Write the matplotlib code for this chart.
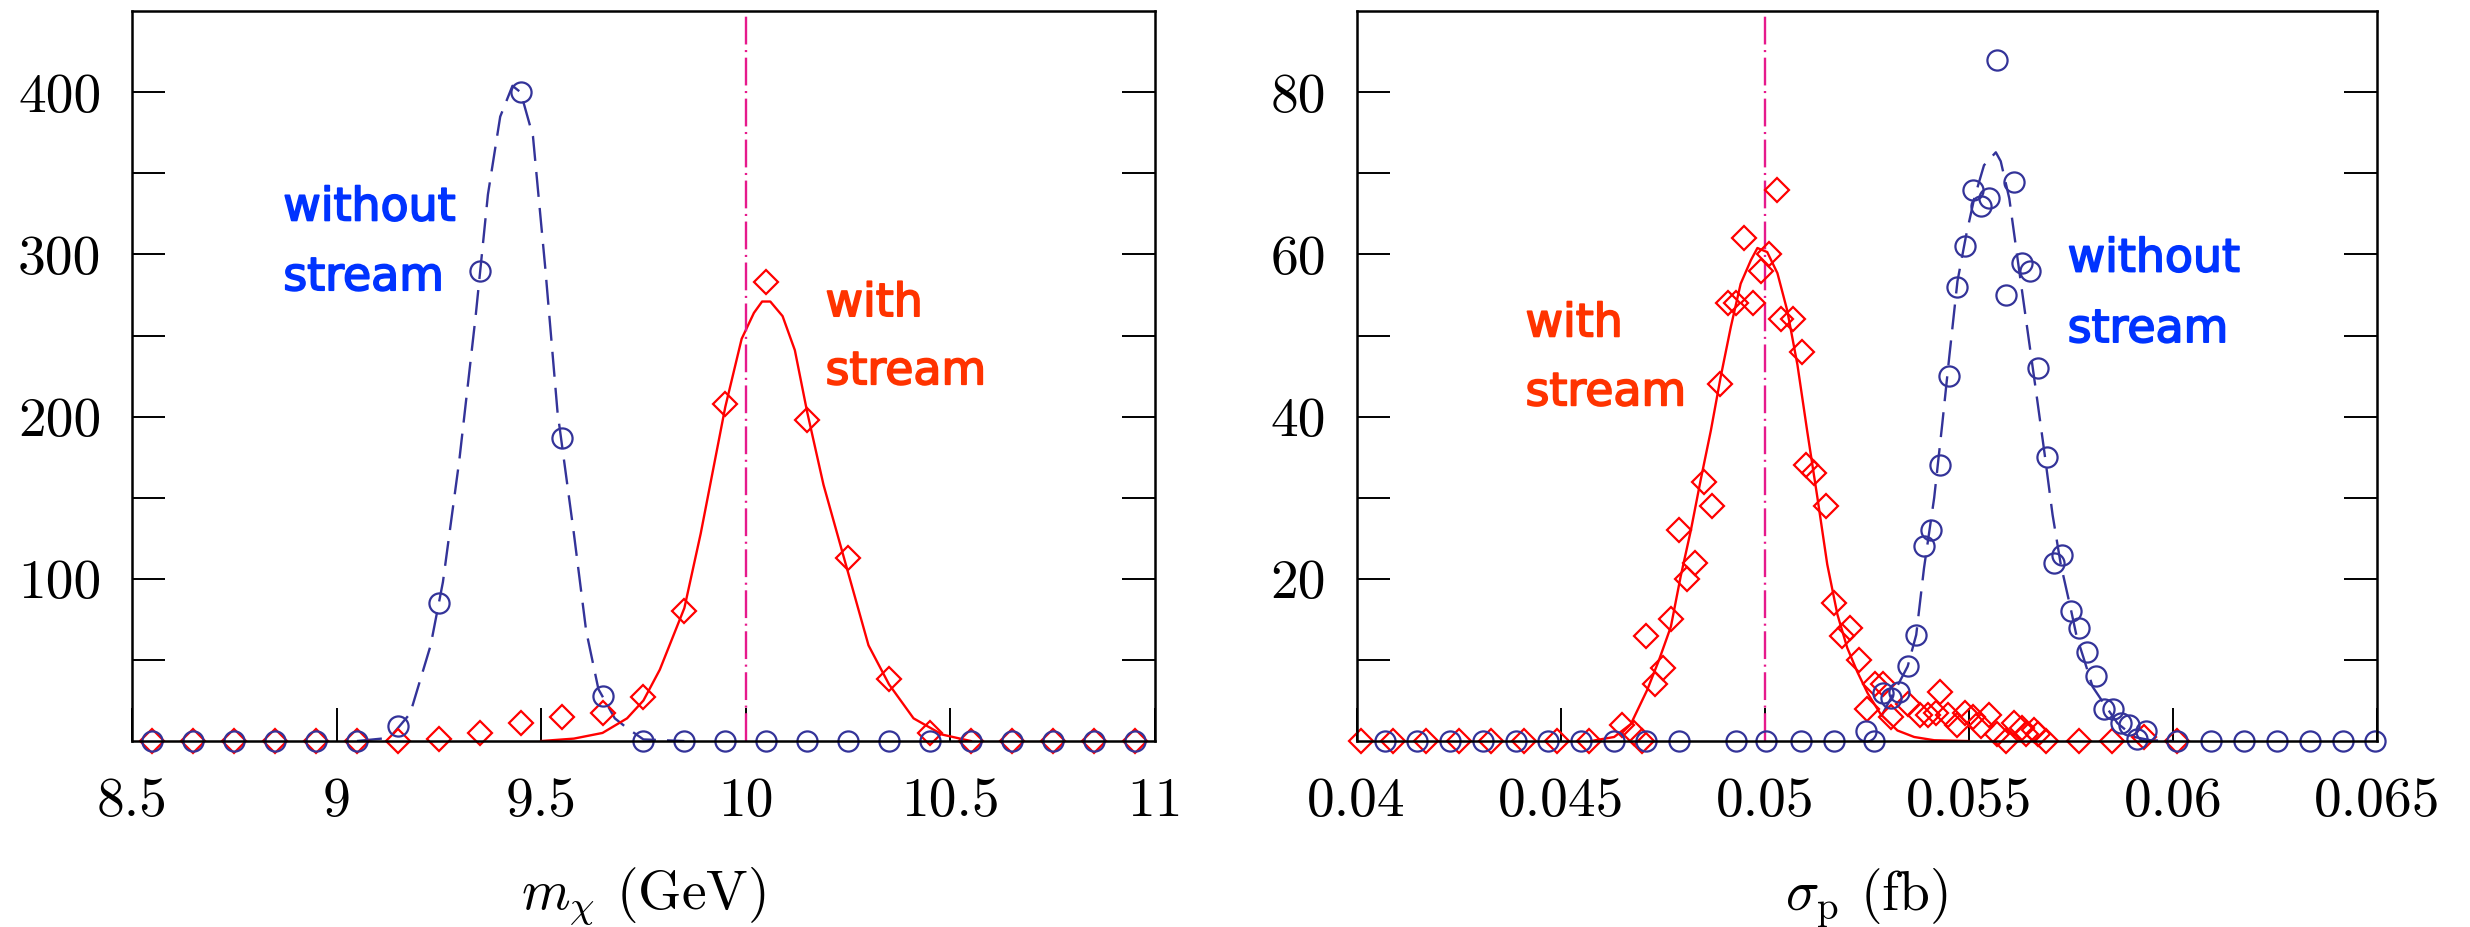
import matplotlib
matplotlib.use('Agg')
import matplotlib.pyplot as plt
import matplotlib.patheffects as pe
from matplotlib.ticker import FixedLocator

plt.rcParams['font.family'] = 'cmr10'
plt.rcParams['mathtext.fontset'] = 'cm'
plt.rcParams['axes.unicode_minus'] = False
plt.rcParams['lines.scale_dashes'] = False

NAVY = '#333399'
RED = '#ff0000'
VLINE = '#e6198c'
TXT_BLUE = '#0033ff'
TXT_RED = '#ff3300'

# ---------------- left panel: m_chi ----------------
mchi_bins = [8.55, 8.65, 8.75, 8.85, 8.95, 9.05, 9.15, 9.25, 9.35, 9.45, 9.55, 9.65, 9.75,
             9.85, 9.95, 10.05, 10.15, 10.25, 10.35, 10.45, 10.55, 10.65, 10.75, 10.85, 10.95]
mchi_without = [0, 0, 0, 0, 0, 0, 9, 85, 290, 400, 187, 28, 0,
                0, 0, 0, 0, 0, 0, 0, 0, 0, 0, 0, 0]
mchi_with = [0, 0, 0, 0, 0, 0, 0, 1, 5, 11, 15, 17, 27,
             80, 208, 283, 198, 113, 38, 5, 0, 0, 0, 0, 0]

# fitted curves
mchi_fit_without_x = [9.05, 9.13, 9.18, 9.23, 9.26, 9.30, 9.34, 9.37, 9.40, 9.43, 9.45,
                      9.48, 9.51, 9.54, 9.58, 9.61, 9.64, 9.68, 9.71, 9.75, 9.85]
mchi_fit_without_y = [0, 2, 17, 59, 98, 173, 262, 337, 385, 404, 400,
                      373, 292, 203, 128, 68, 32, 14, 8, 1, 0]
mchi_fit_with_x = [9.50, 9.58, 9.65, 9.71, 9.75, 9.79, 9.85, 9.89, 9.95, 9.99, 10.02, 10.04,
                   10.06, 10.09, 10.12, 10.15, 10.19, 10.22, 10.26, 10.30, 10.35, 10.41, 10.48, 10.55]
mchi_fit_with_y = [0, 1.5, 5, 14, 25, 44, 82, 128, 206, 248, 264, 271,
                   271, 262, 241, 203, 158, 131, 95, 59, 35, 14, 4, 0]

# ---------------- right panel: sigma_p ----------------
sig_with_x = [0.0401, 0.0409, 0.0417, 0.0425, 0.0433, 0.0441, 0.0449, 0.0457, 0.0465, 0.0468,
              0.0470, 0.0471, 0.0473, 0.0475, 0.0477, 0.0479, 0.0481, 0.0483, 0.0485, 0.0487,
              0.0489, 0.0491, 0.0493, 0.0495, 0.0497, 0.0499, 0.0501, 0.0503, 0.0504, 0.0507,
              0.0509, 0.0510, 0.0512, 0.0515, 0.0517, 0.0519, 0.0521, 0.0523, 0.0525, 0.0527,
              0.0529, 0.0531, 0.0535, 0.0538, 0.0540, 0.0542, 0.0543, 0.0545, 0.0547, 0.0549,
              0.0551, 0.0553, 0.0555, 0.0557, 0.0559, 0.0561, 0.0563, 0.0564, 0.0566, 0.0567,
              0.0569, 0.0577, 0.0585, 0.0593, 0.0601]
sig_with_y = [0, 0, 0, 0, 0, 0, 0, 0, 2, 1,
              0, 13, 7, 9, 15, 26, 20, 22, 32, 29,
              44, 54, 54, 62, 54, 58, 60, 68, 52, 52,
              48, 34, 33, 29, 17, 13, 14, 10, 4, 7,
              7, 3, 4.6, 3.2, 3.2, 3.4, 6, 3.2, 2, 3.4,
              3, 1.8, 3.2, 0.9, 0, 2.2, 1.6, 0.9, 1.4, 0.9,
              0, 0, 0, 0.5, 0]

sig_without_x = [0.04069, 0.04149, 0.04229, 0.0431, 0.0439, 0.0447, 0.04551, 0.04631, 0.04708,
                 0.0479, 0.04929, 0.05002, 0.05088, 0.0517, 0.05248, 0.05268, 0.05289, 0.05309,
                 0.0533, 0.0535, 0.05371, 0.0539, 0.05407, 0.0543, 0.05452, 0.05472, 0.05491,
                 0.05511, 0.05529, 0.0555, 0.05569, 0.05591, 0.05611, 0.05629, 0.0565, 0.0567,
                 0.05691, 0.05709, 0.05729, 0.0575, 0.0577, 0.0579, 0.05811, 0.05831, 0.05852,
                 0.05872, 0.05892, 0.05913, 0.05933, 0.06011, 0.06094, 0.06173, 0.06255,
                 0.06336, 0.06416, 0.06495]
sig_without_y = [0, 0, 0, 0, 0, 0, 0, 0, 0,
                 0, 0, 0, 0, 0, 1.2, 0, 5.9, 5.3,
                 6.1, 9.2, 13.1, 24, 26, 34, 45, 56, 61,
                 68, 66, 67, 84, 55, 69, 59, 58, 46,
                 35, 22, 23, 16, 14, 11, 8, 4, 3.9,
                 2.2, 2, 0.3, 1.2, 0, 0, 0, 0,
                 0, 0, 0]

sig_fit_without_x = [0.05285, 0.0535, 0.05371, 0.0539, 0.05415, 0.05435, 0.05452, 0.05472,
                     0.05493, 0.05513, 0.05537, 0.05566, 0.05578, 0.05599, 0.0562, 0.05644,
                     0.05664, 0.05685, 0.05705, 0.05725, 0.0575, 0.05764, 0.0578, 0.05803,
                     0.05831, 0.05864, 0.05905, 0.05945, 0.0600]
sig_fit_without_y = [3.0, 9.2, 13.1, 21.3, 30, 39.2, 47.4, 56.7,
                     62.3, 66.9, 71, 72.6, 71.5, 66.9, 59.2, 50.5,
                     43.3, 35.6, 27.9, 21.8, 16.2, 12.9, 10.4, 6.7,
                     4.6, 2.2, 0.5, 0.1, 0]
sig_fit_with_x = [0.04574, 0.04631, 0.04672, 0.04712, 0.04741, 0.0477, 0.04794, 0.04819,
                  0.04843, 0.04868, 0.04892, 0.04917, 0.04941, 0.04966, 0.04982, 0.05006,
                  0.05031, 0.05055, 0.0508, 0.05104, 0.05129, 0.05153, 0.05178, 0.05202,
                  0.05227, 0.05252, 0.05284, 0.05325, 0.05366, 0.05415, 0.0550]
sig_fit_with_y = [0, 0.5, 2.1, 6.3, 10, 14.1, 20.3, 26,
                  32.2, 38.3, 44.9, 51.1, 56.4, 59.3, 60.8, 60.3,
                  57.7, 53.1, 46.4, 38.2, 30, 21.8, 15.6, 11.5,
                  8.5, 5.9, 3.3, 1.3, 0.5, 0.1, 0]

mchi_ticks = [8.5, 9, 9.5, 10, 10.5, 11]
mchi_ticklabels = ['8.5', '9', '9.5', '10', '10.5', '11']
sig_ticks = [0.04, 0.045, 0.05, 0.055, 0.06, 0.065]
sig_ticklabels = ['0.04', '0.045', '0.05', '0.055', '0.06', '0.065']


fig = plt.figure(figsize=(24.7, 9.27), dpi=100)
ax1 = fig.add_axes([0.0534, 0.2006, 0.4142, 0.7873])
ax2 = fig.add_axes([0.5492, 0.2006, 0.4132, 0.7873])


def style_axes(ax, xticks, xlabels, ymajor, yminor, ylabels):
    for sp in ax.spines.values():
        sp.set_linewidth(1.8)
    ax.set_xticks(xticks)
    ax.set_xticklabels(xlabels)
    ax.yaxis.set_major_locator(FixedLocator(ymajor))
    ax.yaxis.set_minor_locator(FixedLocator(yminor))
    ax.set_yticklabels(ylabels)
    ax.tick_params(axis='x', which='both', direction='in', length=24, width=1.4,
                   top=False, bottom=True, labelsize=40, pad=26)
    ax.tick_params(axis='y', which='both', direction='in', length=24, width=1.4,
                   left=True, right=True, labelsize=40, pad=22)


def label(ax, x, y, s, color):
    ax.text(x, y, s, color=color, fontsize=33, family='DejaVu Sans',
            path_effects=[pe.withStroke(linewidth=1.3, foreground=color)])


# left panel
ax1.plot(mchi_fit_without_x, mchi_fit_without_y, color=NAVY, lw=1.7, ls=(0, (18, 8)))
ax1.plot(mchi_fit_with_x, mchi_fit_with_y, color=RED, lw=1.7)
ax1.axvline(10, color=VLINE, lw=1.7, ls=(0, (20, 4, 1.5, 4)))
ax1.plot(mchi_bins, mchi_with, ls='none', marker='D', ms=12.5, mfc='none', mec=RED, mew=1.6,
         clip_on=False)
ax1.plot(mchi_bins, mchi_without, ls='none', marker='o', ms=14.5, mfc='none', mec=NAVY, mew=1.6,
         clip_on=False)
ax1.set_xlim(8.5, 11)
ax1.set_ylim(0, 450)
style_axes(ax1, mchi_ticks, mchi_ticklabels, [100, 200, 300, 400], [50, 150, 250, 350],
           ['100', '200', '300', '400'])
ax1.set_xlabel(r'$m_\chi$ (GeV)', fontsize=40)
ax1.xaxis.set_label_coords(0.5, -0.171)
ax1.xaxis.label.set_va('top')
label(ax1, 8.87, 321, 'without', TXT_BLUE)
label(ax1, 8.87, 278, 'stream', TXT_BLUE)
label(ax1, 10.195, 262, 'with', TXT_RED)
label(ax1, 10.195, 220, 'stream', TXT_RED)

# right panel
ax2.plot(sig_fit_without_x, sig_fit_without_y, color=NAVY, lw=1.7, ls=(0, (18, 8)))
ax2.plot(sig_fit_with_x, sig_fit_with_y, color=RED, lw=1.7)
ax2.axvline(0.05, color=VLINE, lw=1.7, ls=(0, (20, 4, 1.5, 4)))
ax2.plot(sig_with_x, sig_with_y, ls='none', marker='D', ms=12.5, mfc='none', mec=RED, mew=1.6,
         clip_on=False)
ax2.plot(sig_without_x, sig_without_y, ls='none', marker='o', ms=14.5, mfc='none', mec=NAVY,
         mew=1.6, clip_on=False)
ax2.set_xlim(0.04, 0.065)
ax2.set_ylim(0, 90)
style_axes(ax2, sig_ticks, sig_ticklabels, [20, 40, 60, 80], [10, 30, 50, 70],
           ['20', '40', '60', '80'])
ax2.set_xlabel(r'$\sigma_{\rm p}$ (fb)', fontsize=40)
ax2.xaxis.set_label_coords(0.5, -0.171)
ax2.xaxis.label.set_va('top')
label(ax2, 0.04414, 49.9, 'with', TXT_RED)
label(ax2, 0.04414, 41.4, 'stream', TXT_RED)
label(ax2, 0.05742, 57.9, 'without', TXT_BLUE)
label(ax2, 0.05742, 49.2, 'stream', TXT_BLUE)

fig.savefig('out.png', dpi=100)
